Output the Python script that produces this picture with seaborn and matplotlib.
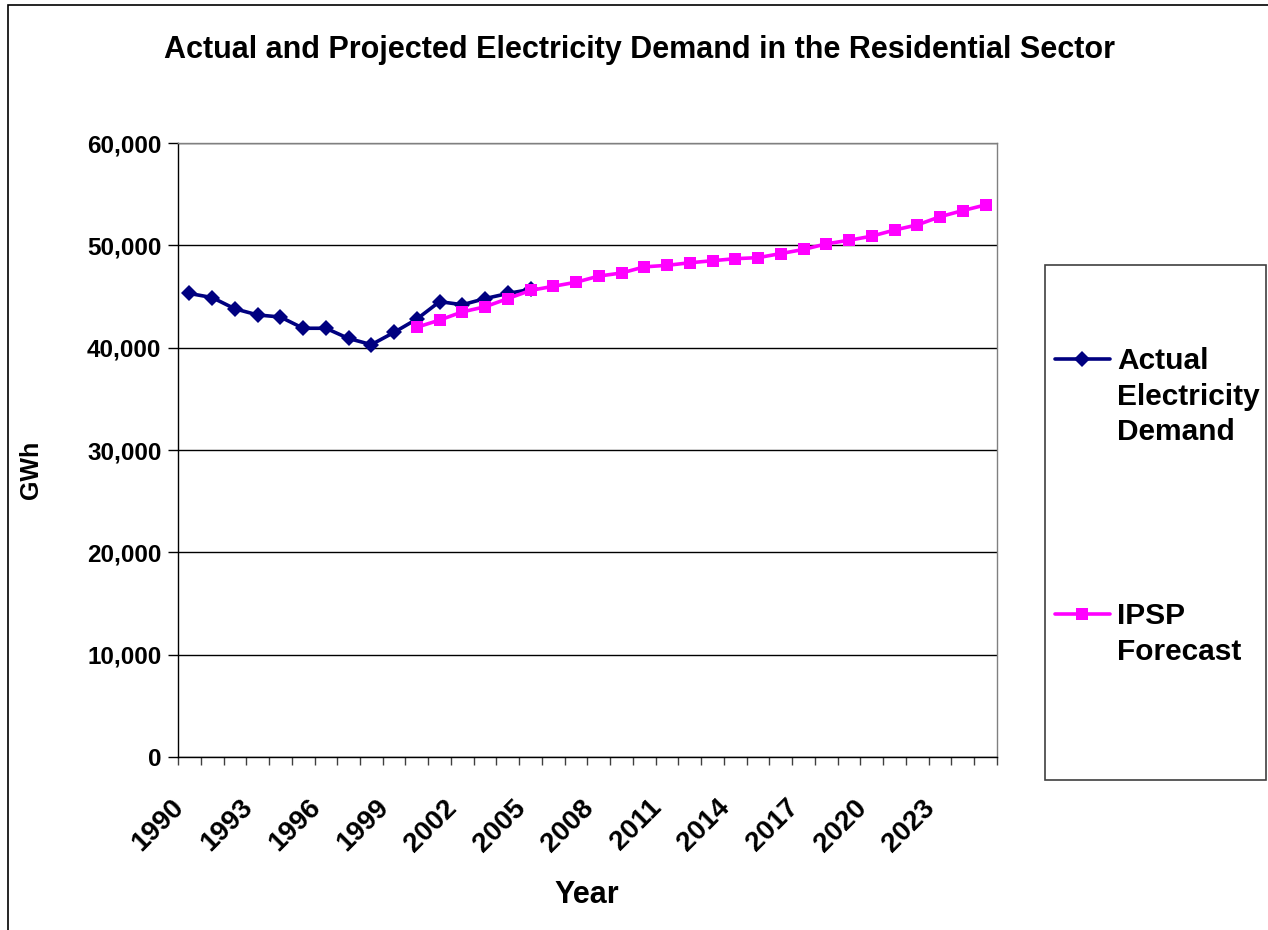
import numpy as np
import pandas as pd
import seaborn as sns
import matplotlib.pyplot as plt
from matplotlib.patches import Rectangle
from matplotlib.lines import Line2D
from matplotlib.ticker import FuncFormatter
from matplotlib.transforms import ScaledTranslation

# data (GWh)
actual_years = list(range(1990, 2006))
actual_gwh = [45300, 44900, 43800, 43200, 43000, 41900, 41900, 40900,
              40300, 41500, 42800, 44500, 44200, 44800, 45300, 45700]

forecast_years = list(range(2000, 2026))
forecast_gwh = [42000, 42700, 43500, 44000, 44800, 45600, 46000, 46400,
                47000, 47300, 47900, 48050, 48300, 48500, 48700, 48800,
                49200, 49600, 50150, 50500, 50900, 51500, 52000, 52800,
                53400, 53950]

tick_years = list(range(1990, 2024, 3))

actual_label = 'Actual\nElectricity\nDemand'
forecast_label = 'IPSP\nForecast'
actual_color = '#000080'
forecast_color = '#FF00FF'

df_actual = pd.DataFrame({'Year': actual_years, 'GWh': actual_gwh})
df_fc = pd.DataFrame({'Year': forecast_years, 'GWh': forecast_gwh})

sns.set_style("white")
plt.rcParams['font.family'] = ['Liberation Sans', 'DejaVu Sans']
plt.rcParams['font.weight'] = 'bold'
for k in ['text.color', 'axes.labelcolor', 'xtick.color', 'ytick.color']:
    plt.rcParams[k] = 'black'

fig = plt.figure(figsize=(12.68, 9.30), dpi=100)
ax = fig.add_axes([0.1404, 0.186, 0.6458, 0.6602])

sns.lineplot(data=df_actual, x='Year', y='GWh', ax=ax, color=actual_color,
             linewidth=2.6, marker='D', markersize=8, markeredgewidth=0,
             legend=False)
sns.lineplot(data=df_fc, x='Year', y='GWh', ax=ax, color=forecast_color,
             linewidth=2.6, marker='s', markersize=8, markeredgewidth=0,
             legend=False)

ax.set_xlim(1989.5, 2025.5)
ax.set_ylim(0, 60000)
ax.set_yticks(range(0, 60001, 10000))
ax.yaxis.set_major_formatter(FuncFormatter(lambda v, p: f'{int(v):,}'))
ax.grid(axis='y', color='black', linewidth=1)
ax.set_axisbelow(True)

ax.set_xticks(tick_years)
ax.set_xticklabels([str(y) for y in tick_years], rotation=45, ha='right',
                   fontsize=20, fontweight='bold')
shift = ScaledTranslation(-10 / 100, 0, fig.dpi_scale_trans)
for lab in ax.get_xticklabels():
    lab.set_transform(lab.get_transform() + shift)
ax.set_xticks(np.arange(1989.5, 2026, 1), minor=True)
ax.tick_params(axis='x', which='major', length=0, pad=27)
ax.tick_params(axis='x', which='minor', length=6, width=1, color='#404040',
               direction='out', bottom=True)
ax.tick_params(axis='y', length=7, width=1, color='black', direction='out',
               left=True, pad=5)
for lab in ax.get_yticklabels():
    lab.set_fontweight('bold')
    lab.set_fontsize(17.5)

for s in ['top', 'right']:
    ax.spines[s].set_color('#808080')
for s in ['left', 'bottom']:
    ax.spines[s].set_color('black')
for s in ax.spines.values():
    s.set_linewidth(1)

ax.set_xlabel('Year', fontsize=22, fontweight='bold')
ax.xaxis.set_label_coords((587 - 178) / 819, -(880 - 757) / 614)
ax.set_ylabel('GWh', fontsize=18, fontweight='bold')
ax.yaxis.set_label_coords((43 - 178) / 819, (757 - 470) / 614)

fig.text(640 / 1268, 1 - 50 / 930,
         'Actual and Projected Electricity Demand in the Residential Sector',
         ha='center', va='center', fontsize=22, fontweight='bold')

# legend box on the right
W, H = 1268, 930
fig.patches.append(Rectangle((1045 / W, 1 - 780 / H), (1266 - 1045) / W, (780 - 265) / H,
                             transform=fig.transFigure, fill=False,
                             edgecolor='#404040', linewidth=1.2))
for yy, col, mk, lab in [(359, actual_color, 'D', actual_label),
                         (614, forecast_color, 's', forecast_label)]:
    fig.add_artist(Line2D([1055 / W, 1110 / W], [1 - yy / H, 1 - yy / H],
                          transform=fig.transFigure, color=col, linewidth=2.6))
    fig.add_artist(Line2D([1082 / W], [1 - yy / H], transform=fig.transFigure,
                          color=col, marker=mk, markersize=8, markeredgewidth=0))
    fig.text(1117 / W, 1 - (yy - 12) / H, lab, ha='left', va='top',
             fontsize=21.5, fontweight='bold', linespacing=1.35)

# outer chart border
fig.patches.append(Rectangle((8 / W, -0.1), 1.2, 1 - 5 / H + 0.1,
                             transform=fig.transFigure, fill=False,
                             edgecolor='black', linewidth=1.2))

fig.savefig('out.png', dpi=100)
